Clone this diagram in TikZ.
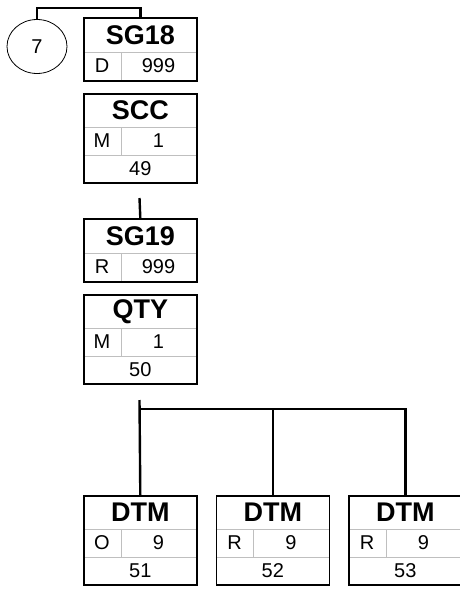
\documentclass[tikz,border=0pt]{standalone}
\usepackage{fontspec}
\setmainfont{Liberation Sans}
\usepackage{tikz}
\usetikzlibrary{calc,shapes.geometric}

\begin{document}
\begin{tikzpicture}[x=1pt,y=-1pt]
			\tikzstyle{segframe}=[draw, line width=1.6pt, inner sep=0pt, minimum width=113pt, anchor=north west]
			\tikzstyle{grid}=[draw=black!25, line width=1pt]
			\tikzstyle{link}=[line width=2.4pt]
			\tikzstyle{tag}=[font=\fontsize{27}{29}\selectfont\bfseries, inner sep=0pt]
			\tikzstyle{cell}=[font=\fontsize{20}{22}\selectfont, inner sep=0pt]

			% #1 name, #2 position, #3 title, #4 status, #5 repeat
			\newcommand{\GroupBox}[5]{
				\node (#1) [segframe, minimum height=63pt] at (#2) {};
				\draw [grid] ($(#1.north west)+(0,35)$) -- ($(#1.north east)+(0,35)$);
				\draw [grid] ($(#1.north west)+(38,35)$) -- ($(#1.north west)+(38,63)$);
				\node [tag] at ($(#1.north)+(0,18)$) {#3};
				\node [cell] at ($(#1.north west)+(19,49)$) {#4};
				\node [cell] at ($(#1.north west)+(75.5,49)$) {#5};
				\node (#1) [segframe, minimum height=63pt] at (#2) {};
			}
			% #6 position number
			\newcommand{\SegBox}[6]{
				\node (#1) [segframe, minimum height=89pt] at (#2) {};
				\draw [grid] ($(#1.north west)+(0,34)$) -- ($(#1.north east)+(0,34)$);
				\draw [grid] ($(#1.north west)+(0,62)$) -- ($(#1.north east)+(0,62)$);
				\draw [grid] ($(#1.north west)+(38,34)$) -- ($(#1.north west)+(38,62)$);
				\node [tag] at ($(#1.north)+(0,17.5)$) {#3};
				\node [cell] at ($(#1.north west)+(19,48)$) {#4};
				\node [cell] at ($(#1.north west)+(75.5,48)$) {#5};
				\node [cell] at ($(#1.north)+(0,75.5)$) {#6};
				\node (#1) [segframe, minimum height=89pt] at (#2) {};
			}

			\useasboundingbox (0,0) rectangle (460,589);

			\node (c7) [ellipse, draw, line width=0.8pt, minimum width=60pt, minimum height=54pt, inner sep=0pt, font=\fontsize{20}{22}\selectfont] at (37,46.5) {7};

			\GroupBox{sg18}{83,17}{SG18}{D}{999}
			\SegBox{scc}{83,93}{SCC}{M}{1}{49}
			\GroupBox{sg19}{83,218}{SG19}{R}{999}
			\SegBox{qty}{83,294}{QTY}{M}{1}{50}

			\SegBox{dtm1}{83,495}{DTM}{O}{9}{51}
			\SegBox{dtm2}{215.5,495}{DTM}{R}{9}{52}
			\SegBox{dtm3}{348,495}{DTM}{R}{9}{53}

			\coordinate (scctail) at (139.5,198);
			\coordinate (qtytail) at (139.5,400);
			\coordinate (bar) at (139.5,409);

			\draw [link] (c7.north) -- ++(0,-11) -| (sg18.north);
			\draw [link] (scctail) -- (sg19.north);
			\draw [link] (qtytail) -- (dtm1.north);
			\draw [link] (bar) -| (dtm2.north);
			\draw [link] (bar) -| (dtm3.north);
		\end{tikzpicture}
\end{document}
